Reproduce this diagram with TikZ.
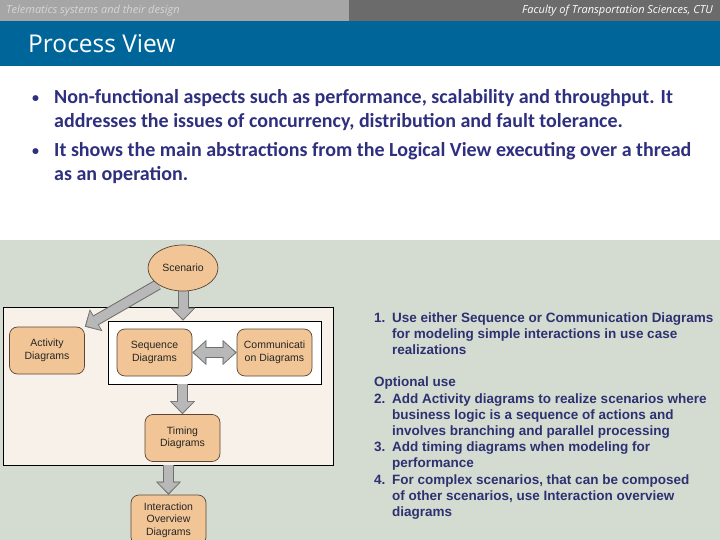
\documentclass[tikz,border=0pt]{standalone}
\usepackage{fontspec}
\usepackage{tikz}
\usetikzlibrary{shapes.geometric,arrows.meta}
\setmainfont{Carlito}
\newfontfamily\headfont{Open Sans}
\newfontfamily\umlfont{Liberation Sans}

\definecolor{bargray}{HTML}{A6A6A6}
\definecolor{barlight}{HTML}{D6D6D6}
\definecolor{bardark}{HTML}{6B6B6B}
\definecolor{titleblue}{HTML}{006699}
\definecolor{bulletblue}{HTML}{2F2F7F}
\definecolor{listblue}{HTML}{2E3170}
\definecolor{panelgray}{HTML}{D4DCD2}
\definecolor{boxfill}{HTML}{F8F1EA}
\definecolor{nodefill}{HTML}{F2C596}
\definecolor{nodeedge}{HTML}{5A4636}
\definecolor{arrowfill}{HTML}{B8B8B8}
\definecolor{arrowedge}{HTML}{6E6E6E}

\pgfdeclarelayer{back}
\pgfsetlayers{back,main}

\tikzset{
  umlnode/.style={draw=nodeedge, fill=nodefill, line width=0.7pt, rounded corners=8pt,
    minimum width=75pt, minimum height=47pt, inner sep=0pt, align=center,
    font=\umlfont\fontsize{10.5}{12.5}\selectfont, text=black!85},
  groupbox/.style={draw=black, line width=0.8pt, inner sep=0pt},
  blockarrow/.style={draw=arrowedge, line width=11pt,
    -{Triangle[length=13pt,width=25pt,line width=0.5pt]},
    postaction={draw=arrowfill, line width=9pt,
      -{Triangle[length=10.5pt,width=21pt,line width=0.1pt]}, shorten >=1.6pt}},
  dblarrow/.style={draw=arrowedge, line width=11pt,
    {Triangle[length=14pt,width=25pt,line width=0.5pt]}-{Triangle[length=14pt,width=25pt,line width=0.5pt]},
    postaction={draw=arrowfill, line width=9pt,
      {Triangle[length=11.5pt,width=21pt,line width=0.1pt]}-{Triangle[length=11.5pt,width=21pt,line width=0.1pt]},
      shorten >=1.6pt, shorten <=1.6pt}}
}

\begin{document}
\begin{tikzpicture}[x=1pt,y=-1pt]
\useasboundingbox (0,0) rectangle (720,540);
\clip (0,0) rectangle (720,540);

\begin{pgfonlayer}{back}
  \fill[bargray] (0,0) rectangle (349,21);
  \fill[bardark] (349,0) rectangle (720,21);
  \fill[titleblue] (0,21) rectangle (720,66);
  \fill[white] (0,66) rectangle (720,240);
  \fill[panelgray] (0,240) rectangle (720,540);
  \node[groupbox, fill=boxfill, minimum width=330pt, minimum height=158pt] (usecasebox) at (168,386) {};
  \node[groupbox, fill=white, minimum width=213pt, minimum height=63pt] (interbox) at (214.5,352.5) {};
\end{pgfonlayer}

% header
\node[anchor=west, inner sep=0pt, text=barlight, font=\headfont\itshape\fontsize{11}{13}\selectfont] (course) at (6,10.5) {Telematics systems and their design};
\node[anchor=east, inner sep=0pt, text=white, font=\headfont\itshape\fontsize{11}{13}\selectfont] (faculty) at (713,10.5) {Faculty of Transportation Sciences, CTU};
\node[anchor=base west, inner sep=0pt, text=white, font=\headfont\fontsize{24.5}{29}\selectfont] (title) at (28,53) {Process View};

% bullets (base = last line)
\node[anchor=base west, inner sep=0pt, text=bulletblue, font=\bfseries\fontsize{14}{24}\selectfont] (dot1) at (32,103) {•};
\node[anchor=base west, inner sep=0pt, text=bulletblue, align=left, font=\bfseries\fontsize{20}{24}\selectfont] (item1) at (54,128)
  {Non-functional aspects such as performance, scalability and throughput. It\\addresses the issues of concurrency, distribution and fault tolerance.};
\node[anchor=base west, inner sep=0pt, text=bulletblue, font=\bfseries\fontsize{14}{24}\selectfont] (dot2) at (32,156) {•};
\node[anchor=base west, inner sep=0pt, text=bulletblue, align=left, font=\bfseries\fontsize{20}{24}\selectfont] (item2) at (54,181)
  {It shows the main abstractions from the Logical View executing over a thread\\as an operation.};

% diagram
\node[umlnode, shape=ellipse, rounded corners=0pt, minimum width=70pt, minimum height=46pt] (scenario) at (183,268) {Scenario};
\node[umlnode] (activity) at (47,350.5) {Activity\\Diagrams};
\node[umlnode] (sequence) at (154.5,352.5) {Sequence\\Diagrams};
\node[umlnode] (communication) at (274.5,352.5) {Communicati\\on Diagrams};
\node[umlnode] (timing) at (182.5,438) {Timing\\Diagrams};
\node[umlnode, minimum height=50pt] (interaction) at (168.5,520) {Interaction\\Overview\\Diagrams};

\begin{pgfonlayer}{back}
  \draw[blockarrow] (scenario.south west) -- (activity.north east);
  \draw[blockarrow] (scenario.south) -- (scenario.south |- interbox.north);
  \draw[blockarrow] (timing.north |- interbox.south) -- (timing.north);
  \draw[blockarrow] (interaction.north |- usecasebox.south) -- (interaction.north);
\end{pgfonlayer}
\draw[dblarrow] (sequence) -- (communication);

% notes (base = last line)
\node[anchor=base west, inner sep=0pt, text=listblue, align=left, font=\umlfont\bfseries\fontsize{13.5}{16.2}\selectfont] (notes) at (374,516.4)
  {\makebox[18pt][l]{1.}Use either Sequence or Communication Diagrams\\
   \makebox[18pt][l]{}for modeling simple interactions in use case\\
   \makebox[18pt][l]{}realizations\\[16.2pt]
   Optional use\\
   \makebox[18pt][l]{2.}Add Activity diagrams to realize scenarios where\\
   \makebox[18pt][l]{}business logic is a sequence of actions and\\
   \makebox[18pt][l]{}involves branching and parallel processing\\
   \makebox[18pt][l]{3.}Add timing diagrams when modeling for\\
   \makebox[18pt][l]{}performance\\
   \makebox[18pt][l]{4.}For complex scenarios, that can be composed\\
   \makebox[18pt][l]{}of other scenarios, use Interaction overview\\
   \makebox[18pt][l]{}diagrams};
\end{tikzpicture}
\end{document}
